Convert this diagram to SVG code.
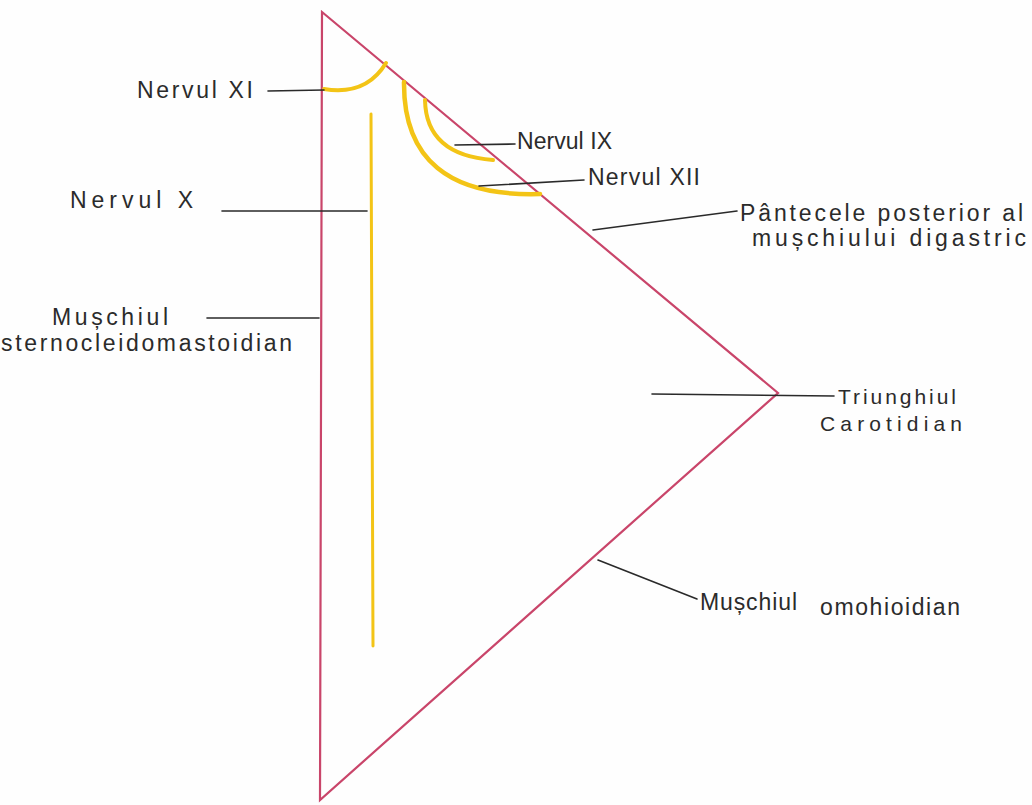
<svg xmlns="http://www.w3.org/2000/svg" width="1032" height="805" viewBox="0 0 1032 805">
  <style>
    .muscle { fill: none; stroke: #c9456a; stroke-width: 2.2; stroke-linejoin: miter; }
    .nerve { fill: none; stroke: #f3c416; stroke-linecap: round; }
    .leader { fill: none; stroke: #2a2a2a; stroke-width: 1.6; stroke-linecap: round; }
    .lbl { font-family: "Liberation Sans", "DejaVu Sans", sans-serif; font-size: 23px; fill: #2b2b2b; }
    .lbl.sm { font-size: 21px; }
  </style>
  <rect width="1032" height="805" fill="#fefefe"/>

  <!-- Carotid triangle: SCM, posterior digastric belly, omohyoid -->
  <g id="triangle">
    <path class="muscle" d="M322,12 L778,393 L320,800 Z"/>
  </g>

  <!-- Nerves -->
  <g id="nerve-xi">
    <path class="nerve" stroke-width="4" d="M324,89 Q366,96 386,63"/>
  </g>
  <g id="nerve-x">
    <line class="nerve" stroke-width="3" x1="371" y1="114" x2="373" y2="646"/>
  </g>
  <g id="nerve-ix">
    <path class="nerve" stroke-width="4" d="M425,100 Q426,155 493,160"/>
  </g>
  <g id="nerve-xii">
    <path class="nerve" stroke-width="4.5" d="M404,82 Q403,198 540,194"/>
  </g>

  <!-- Leader lines -->
  <g id="connectors">
    <line class="leader" x1="268" y1="91" x2="324" y2="90"/>
    <line class="leader" x1="222" y1="211" x2="367" y2="211"/>
    <line class="leader" x1="455" y1="145" x2="515" y2="144"/>
    <line class="leader" x1="479" y1="186" x2="584" y2="180"/>
    <line class="leader" x1="593" y1="230" x2="737" y2="211"/>
    <line class="leader" x1="207" y1="318" x2="319" y2="318"/>
    <line class="leader" x1="652" y1="394" x2="834" y2="396"/>
    <line class="leader" x1="598" y1="560" x2="697" y2="599"/>
  </g>

  <!-- Labels -->
  <g id="label-xi"><text class="lbl" x="137" y="98" textLength="116" lengthAdjust="spacing">Nervul XI</text></g>
  <g id="label-x"><text class="lbl" x="70" y="208" textLength="123" lengthAdjust="spacing">Nervul X</text></g>
  <g id="label-ix"><text class="lbl" x="517" y="149" textLength="95" lengthAdjust="spacing">Nervul IX</text></g>
  <g id="label-xii"><text class="lbl" x="588" y="185" textLength="112" lengthAdjust="spacing">Nervul XII</text></g>
  <g id="label-digastric">
    <text class="lbl" x="740" y="221" textLength="283" lengthAdjust="spacing">Pântecele posterior al</text>
    <text class="lbl" x="752" y="246" textLength="274" lengthAdjust="spacing">mușchiului digastric</text>
  </g>
  <g id="label-scm">
    <text class="lbl" x="52" y="325" textLength="116" lengthAdjust="spacing">Mușchiul</text>
    <text class="lbl" x="1" y="351" textLength="291" lengthAdjust="spacing">sternocleidomastoidian</text>
  </g>
  <g id="label-triangle">
    <text class="lbl sm" x="838" y="404" textLength="118" lengthAdjust="spacing">Triunghiul</text>
    <text class="lbl sm" x="820" y="431" textLength="142" lengthAdjust="spacing">Carotidian</text>
  </g>
  <g id="label-omohyoid">
    <text class="lbl" x="700" y="610" textLength="97" lengthAdjust="spacing">Mușchiul</text>
    <text class="lbl" x="820" y="615" textLength="140" lengthAdjust="spacing">omohioidian</text>
  </g>
</svg>
